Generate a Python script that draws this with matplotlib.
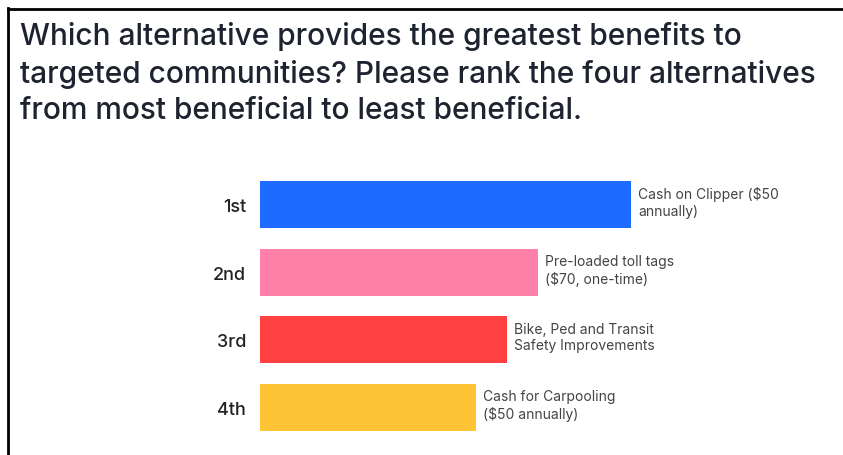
import matplotlib.pyplot as plt
from matplotlib.lines import Line2D

ranks = ['1st', '2nd', '3rd', '4th']
options = ['Cash on Clipper ($50\nannually)',
           'Pre-loaded toll tags\n($70, one-time)',
           'Bike, Ped and Transit\nSafety Improvements',
           'Cash for Carpooling\n($50 annually)']
scores = [3.0, 2.25, 2.0, 1.75]
colors = ['#1e6cff', '#ff80a9', '#ff4141', '#ffc435']

W, H = 843, 456
fig = plt.figure(figsize=(W / 100, H / 100), dpi=100)
fig.patch.set_facecolor('white')

# frame: left and top line only
fig.add_artist(Line2D([7.5 / W, 7.5 / W], [0, 1 - 9 / H], color='black', lw=2))
fig.add_artist(Line2D([7.5 / W, 1], [1 - 9.5 / H, 1 - 9.5 / H], color='black', lw=2))

fig.text(20 / W, 1 - 22 / H,
         'Which alternative provides the greatest benefits to\n'
         'targeted communities? Please rank the four alternatives\n'
         'from most beneficial to least beneficial.',
         ha='left', va='top', fontsize=21.5, color='#1e2330',
         family='Inter', fontweight='medium', linespacing=1.38)

ax = fig.add_axes([260 / W, 1 - 442 / H, 583 / W, 270 / H])
ypos = range(len(ranks))
ax.barh(ypos, scores, height=0.7, color=colors)
for y, s, lab in zip(ypos, scores, options):
    ax.text(s + 7 / 123.7, y - 0.04, lab, ha='left', va='center',
            fontsize=10, color='#444444', family='Inter', linespacing=1.25)

ax.set_ylim(3.5, -0.5)
ax.set_xlim(0, 583 / 123.7)
ax.set_yticks(list(ypos))
ax.set_yticklabels(ranks, fontsize=13, color='#222222', family='Inter',
                   fontweight='medium')
ax.tick_params(axis='y', length=0, pad=10)
ax.set_xticks([])
for sp in ax.spines.values():
    sp.set_visible(False)

fig.savefig('out.png', dpi=100)
